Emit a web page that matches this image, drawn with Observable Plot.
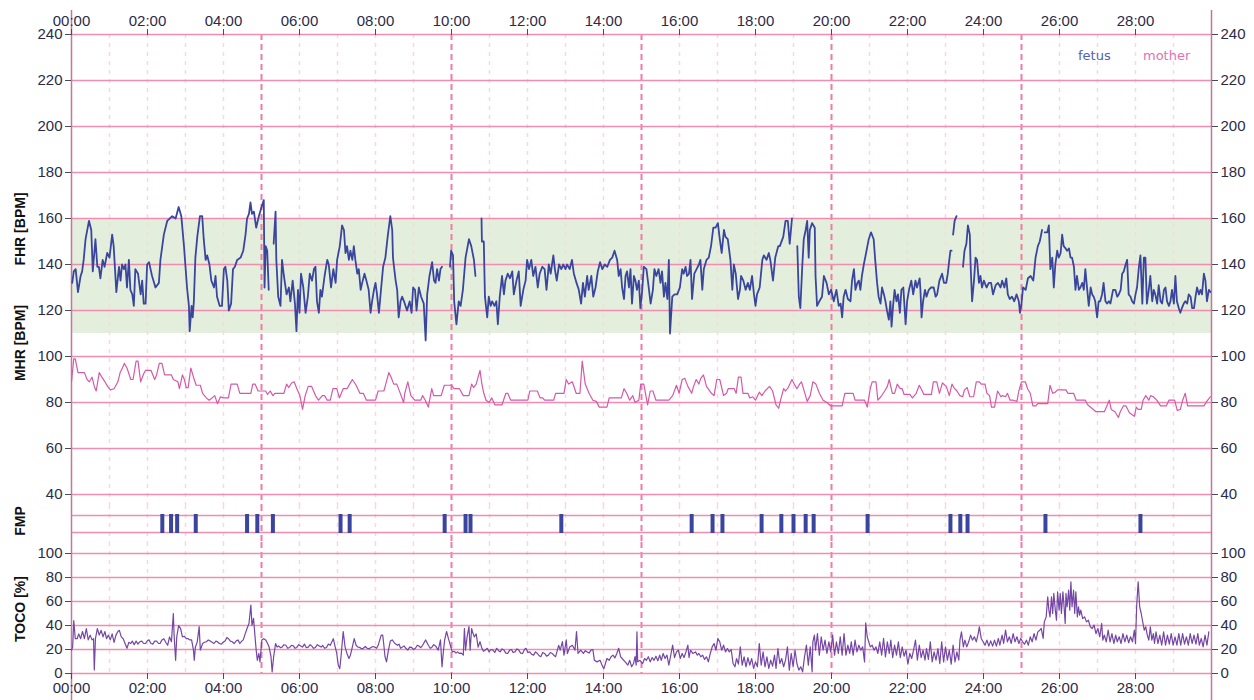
<!DOCTYPE html>
<html><head><meta charset="utf-8">
<script src="https://cdn.jsdelivr.net/npm/d3@7"></script>
<script src="https://cdn.jsdelivr.net/npm/@observablehq/plot@0.6"></script>
<style>
body{margin:0;background:#fff;}
#chart{position:relative;width:1254px;height:700px;font-family:"Liberation Sans",Arial,sans-serif;}
#chart svg{display:block;}
.ylab{position:absolute;left:20px;font-weight:bold;font-size:14px;color:#111;white-space:nowrap;transform:translate(-50%,-50%) rotate(-90deg);}
.leg{position:absolute;font-family:"DejaVu Sans",sans-serif;font-size:13px;line-height:16px;}
</style></head>
<body><div id="chart"></div>
<script>
// ---- DATA (time in minutes) ----
const xTicks = [0,2,4,6,8,10,12,14,16,18,20,22,24,26,28];
const minorMinutes = [1,2,3,4,6,7,8,9,11,12,13,14,16,17,18,19,21,22,23,24,26,27,28,29];
const majorMinutes = [5,10,15,20,25];
const bpmTicks = [40,60,80,100,120,140,160,180,200,220,240];
const tocoTicks = [0,20,40,60,80,100];
const fhrNormal = [110,160];

const fhr = [[0.02,132],[0.06,137],[0.11,138],[0.17,128],[0.24,135],[0.28,137],[0.32,142],[0.37,151],[0.46,159],[0.52,155],[0.56,137],[0.63,151],[0.68,139],[0.72,139],[0.76,134],[0.82,142],[0.87,139],[0.94,145],[1.00,143],[1.07,153],[1.11,148],[1.18,128],[1.25,139],[1.29,133],[1.33,140],[1.38,138],[1.42,140],[1.46,130],[1.51,142],[1.55,129],[1.60,127],[1.64,122],[1.68,138],[1.75,136],[1.82,127],[1.86,133],[1.90,123],[1.95,123],[1.99,140],[2.04,141],[2.08,138],[2.12,135],[2.21,130],[2.30,132],[2.34,142],[2.43,153],[2.52,159],[2.65,161],[2.74,160],[2.82,165],[2.89,161],[2.96,148],[3.00,139],[3.04,130],[3.09,122],[3.11,111],[3.16,122],[3.19,117],[3.22,124],[3.26,143],[3.31,152],[3.38,161],[3.44,161],[3.48,151],[3.53,142],[3.57,144],[3.63,140],[3.68,133],[3.75,130],[3.79,135],[3.83,126],[3.90,122],[3.96,122],[4.01,138],[4.05,139],[4.10,133],[4.14,120],[4.20,123],[4.25,138],[4.30,139],[4.36,142],[4.45,143],[4.52,146],[4.58,153],[4.62,160],[4.67,162],[4.71,167],[4.75,162],[4.80,163],[4.86,156],[4.93,161],[5.02,166],[5.06,168],[5.08,130],[5.11,148],[5.15,146],[5.19,129],[5.25,NaN],[5.32,149],[5.37,163],[5.39,142],[5.44,126],[5.50,122],[5.54,142],[5.59,135],[5.66,127],[5.72,130],[5.76,124],[5.82,133],[5.88,123],[5.92,111],[5.96,129],[6.00,119],[6.04,136],[6.10,130],[6.16,119],[6.22,126],[6.27,136],[6.33,133],[6.38,138],[6.42,139],[6.46,124],[6.51,119],[6.55,129],[6.59,126],[6.66,135],[6.73,142],[6.77,140],[6.83,130],[6.89,138],[6.95,132],[6.99,142],[7.06,148],[7.12,157],[7.17,155],[7.21,145],[7.25,148],[7.30,142],[7.34,146],[7.39,142],[7.43,148],[7.47,142],[7.52,136],[7.56,138],[7.61,129],[7.65,132],[7.71,136],[7.76,133],[7.82,129],[7.87,119],[7.91,124],[7.96,129],[8.00,132],[8.04,127],[8.09,119],[8.15,130],[8.20,139],[8.26,143],[8.32,152],[8.39,161],[8.44,155],[8.46,143],[8.48,140],[8.53,133],[8.57,129],[8.61,117],[8.66,124],[8.70,126],[8.75,124],[8.83,120],[8.90,124],[8.95,119],[8.99,130],[9.04,129],[9.08,120],[9.14,130],[9.20,126],[9.27,123],[9.32,107],[9.36,127],[9.42,135],[9.49,141],[9.54,133],[9.58,132],[9.62,138],[9.67,133],[9.71,138],[9.75,139],[9.85,NaN],[9.96,139],[9.99,146],[10.04,144],[10.07,124],[10.13,114],[10.19,124],[10.24,122],[10.30,129],[10.37,143],[10.46,151],[10.52,148],[10.59,142],[10.63,135],[10.70,NaN],[10.79,160],[10.80,150],[10.85,150],[10.88,126],[10.94,117],[10.98,126],[11.03,122],[11.07,124],[11.13,122],[11.18,124],[11.22,114],[11.27,126],[11.33,135],[11.38,127],[11.42,133],[11.48,136],[11.54,134],[11.60,137],[11.64,127],[11.71,133],[11.77,137],[11.82,122],[11.89,129],[11.95,133],[11.99,142],[12.04,138],[12.10,142],[12.15,135],[12.21,139],[12.27,130],[12.32,136],[12.39,139],[12.45,138],[12.50,129],[12.56,140],[12.61,136],[12.68,144],[12.72,138],[12.77,133],[12.83,140],[12.89,138],[12.94,140],[13.00,138],[13.04,140],[13.11,138],[13.17,142],[13.22,136],[13.29,132],[13.35,129],[13.41,123],[13.46,132],[13.51,126],[13.57,135],[13.61,129],[13.68,135],[13.73,126],[13.79,130],[13.85,137],[13.91,141],[13.97,138],[14.03,140],[14.10,139],[14.17,142],[14.23,143],[14.29,146],[14.36,142],[14.40,135],[14.45,138],[14.49,130],[14.54,125],[14.58,135],[14.62,137],[14.67,130],[14.71,138],[14.75,123],[14.80,135],[14.84,133],[14.88,129],[14.93,133],[14.97,121],[15.02,129],[15.06,139],[15.13,138],[15.19,130],[15.24,123],[15.30,129],[15.34,138],[15.39,135],[15.45,138],[15.50,132],[15.54,137],[15.59,126],[15.63,132],[15.68,125],[15.72,142],[15.75,110],[15.81,126],[15.87,127],[15.94,127],[16.01,130],[16.07,138],[16.11,136],[16.16,139],[16.20,135],[16.25,136],[16.29,142],[16.33,125],[16.39,136],[16.45,138],[16.51,140],[16.55,142],[16.60,129],[16.64,138],[16.71,142],[16.77,143],[16.83,148],[16.89,156],[16.95,156],[17.01,158],[17.06,151],[17.11,145],[17.17,155],[17.21,152],[17.27,151],[17.34,142],[17.39,129],[17.43,140],[17.48,136],[17.54,125],[17.59,129],[17.62,135],[17.68,133],[17.74,129],[17.80,132],[17.85,129],[17.91,135],[17.96,127],[18.00,122],[18.04,127],[18.11,130],[18.18,142],[18.22,144],[18.29,142],[18.35,145],[18.39,142],[18.46,133],[18.52,143],[18.60,148],[18.64,148],[18.73,152],[18.79,159],[18.85,159],[18.90,149],[18.96,160],[19.03,NaN],[19.10,148],[19.14,126],[19.18,121],[19.23,139],[19.27,151],[19.32,155],[19.36,159],[19.40,143],[19.43,155],[19.49,158],[19.56,156],[19.58,135],[19.62,122],[19.68,124],[19.75,126],[19.80,135],[19.87,132],[19.93,127],[19.99,129],[20.06,124],[20.13,129],[20.19,122],[20.24,123],[20.28,117],[20.32,126],[20.37,129],[20.43,125],[20.50,124],[20.54,133],[20.59,138],[20.63,129],[20.68,132],[20.72,133],[20.76,129],[20.80,135],[20.85,140],[20.91,145],[20.98,151],[21.04,154],[21.11,151],[21.15,142],[21.20,132],[21.24,126],[21.29,123],[21.33,130],[21.38,127],[21.42,124],[21.46,120],[21.51,116],[21.55,124],[21.58,113],[21.62,122],[21.66,129],[21.71,124],[21.75,127],[21.80,119],[21.84,129],[21.89,130],[21.95,114],[21.99,124],[22.04,129],[22.10,133],[22.15,127],[22.21,133],[22.25,130],[22.32,134],[22.34,129],[22.37,117],[22.41,124],[22.46,129],[22.50,126],[22.56,129],[22.62,130],[22.69,130],[22.74,126],[22.78,127],[22.84,133],[22.91,136],[22.96,132],[23.02,132],[23.06,136],[23.10,142],[23.13,146],[23.16,146],[23.18,NaN],[23.20,153],[23.24,159],[23.29,161],[23.38,NaN],[23.46,139],[23.50,146],[23.55,149],[23.59,157],[23.64,153],[23.66,140],[23.70,124],[23.75,133],[23.79,143],[23.83,142],[23.88,132],[23.92,135],[23.96,130],[24.01,133],[24.08,130],[24.14,132],[24.20,132],[24.25,127],[24.32,131],[24.38,132],[24.45,130],[24.49,133],[24.55,130],[24.60,134],[24.64,127],[24.69,125],[24.75,126],[24.81,124],[24.87,127],[24.93,124],[24.96,119],[25.00,123],[25.04,130],[25.11,129],[25.17,134],[25.24,135],[25.31,133],[25.37,143],[25.43,148],[25.48,150],[25.54,155],[25.57,NaN],[25.61,154],[25.68,154],[25.72,157],[25.76,138],[25.81,143],[25.85,130],[25.89,140],[25.94,146],[25.98,143],[26.03,145],[26.07,153],[26.11,148],[26.16,147],[26.20,146],[26.25,147],[26.29,143],[26.33,143],[26.38,139],[26.42,129],[26.46,135],[26.51,129],[26.55,130],[26.60,132],[26.64,129],[26.68,138],[26.73,129],[26.77,122],[26.82,130],[26.86,127],[26.90,126],[26.94,124],[26.99,117],[27.03,124],[27.07,124],[27.12,127],[27.16,132],[27.21,124],[27.25,123],[27.30,124],[27.34,123],[27.41,129],[27.47,129],[27.52,126],[27.56,127],[27.61,129],[27.65,136],[27.69,137],[27.74,140],[27.78,142],[27.82,127],[27.87,126],[27.91,124],[27.96,123],[28.00,127],[28.04,130],[28.09,139],[28.13,144],[28.18,123],[28.22,143],[28.26,143],[28.30,123],[28.35,129],[28.39,135],[28.44,124],[28.48,129],[28.52,127],[28.57,123],[28.61,131],[28.66,124],[28.70,123],[28.75,129],[28.79,130],[28.83,124],[28.88,122],[28.92,124],[28.96,129],[29.01,123],[29.05,135],[29.09,124],[29.14,121],[29.18,119],[29.22,121],[29.27,123],[29.31,124],[29.36,123],[29.40,127],[29.45,126],[29.49,121],[29.54,121],[29.58,126],[29.62,130],[29.67,127],[29.71,129],[29.75,127],[29.80,136],[29.84,133],[29.88,124],[29.93,129],[29.97,128]];

const mhr = [[0.00,89],[0.06,99],[0.10,99],[0.17,93],[0.34,93],[0.41,90],[0.47,89],[0.54,91],[0.60,87],[0.65,85],[0.73,93],[0.80,91],[0.88,89],[0.95,87],[1.02,85.5],[1.12,86],[1.22,89],[1.28,93],[1.34,95],[1.39,97],[1.46,95],[1.56,90],[1.62,90],[1.70,98],[1.75,98],[1.82,89],[1.90,92.5],[1.95,94],[2.09,94],[2.19,90],[2.24,92],[2.31,97],[2.38,97],[2.45,92],[2.63,92],[2.68,90],[2.80,89],[2.84,86],[2.92,92],[2.97,90],[3.02,86.5],[3.07,86.5],[3.14,95],[3.21,91],[3.28,87.5],[3.39,87.5],[3.45,84],[3.55,82],[3.62,81],[3.70,82],[3.77,83],[3.84,79.5],[3.92,82.5],[3.99,82],[4.13,82],[4.20,88],[4.36,88],[4.43,84],[4.72,84],[4.77,88],[4.83,88],[4.91,85],[5.11,85],[5.16,83.5],[5.23,85],[5.30,83],[5.35,84],[5.59,84],[5.66,88],[5.72,86.5],[5.79,88.5],[5.86,89],[5.93,86],[6.01,83],[6.08,77],[6.15,83],[6.23,87],[6.32,87],[6.42,83],[6.50,81],[6.60,83],[6.66,83],[6.73,81],[6.81,81],[6.88,86],[6.98,86],[7.05,82],[7.15,86],[7.25,86],[7.32,88],[7.39,90],[7.49,87.5],[7.59,84],[7.68,84],[7.76,81],[8.00,81],[8.07,85],[8.22,85],[8.27,88],[8.35,93],[8.41,91],[8.48,88],[8.56,88],[8.64,84.5],[8.74,80],[8.77,84],[8.85,89],[8.93,83],[9.03,81],[9.19,81],[9.24,83],[9.31,81],[9.39,78],[9.48,86],[9.53,83],[9.73,83],[9.81,87.5],[10.00,87.5],[10.07,86],[10.21,86],[10.31,83],[10.46,83],[10.53,88],[10.58,86.5],[10.65,88],[10.70,91],[10.75,94],[10.80,88],[10.85,84],[10.91,81],[10.99,80],[11.06,82],[11.14,79],[11.33,79],[11.43,84],[11.48,84],[11.56,81],[12.01,81],[12.06,85],[12.26,85],[12.33,82],[12.40,82],[12.45,81],[12.69,81],[12.74,84],[12.96,84],[13.02,90],[13.08,88],[13.18,89],[13.28,84],[13.38,84],[13.44,98],[13.52,88],[13.62,84],[13.72,81],[13.81,80.5],[13.89,78],[14.09,78],[14.15,82],[14.47,82],[14.54,86],[14.61,84],[14.69,81],[14.77,83],[14.83,80],[14.93,81],[14.98,88],[15.06,88],[15.16,79],[15.23,85],[15.30,85],[15.38,81],[15.72,81],[15.82,83],[15.92,87.5],[15.99,84],[16.07,90],[16.14,90.5],[16.22,87],[16.32,84],[16.37,87],[16.44,90],[16.51,88],[16.56,90.5],[16.63,92],[16.71,87],[16.84,84],[16.91,83],[16.98,90],[17.06,90],[17.16,83],[17.24,84],[17.28,86],[17.44,86],[17.49,84],[17.55,91],[17.62,91],[17.67,84],[17.80,84],[17.85,82],[17.93,82.5],[18.00,81],[18.10,84.5],[18.17,83],[18.25,85],[18.37,87],[18.45,85],[18.54,79],[18.61,77.5],[18.66,81],[18.74,86],[18.79,85],[18.86,86.5],[18.96,90],[19.02,88],[19.09,86],[19.16,88],[19.21,89],[19.29,84.5],[19.36,80.5],[19.44,83],[19.51,89],[19.59,88],[19.68,84],[19.78,81],[19.88,80],[19.98,78.5],[20.28,78.5],[20.35,84],[20.57,84],[20.62,81],[20.87,81],[20.94,78],[21.02,86],[21.07,89],[21.17,89],[21.22,81],[21.30,82.5],[21.40,85],[21.47,87],[21.52,90],[21.60,84],[21.66,84],[21.73,88],[21.81,86],[21.86,86],[21.91,83.5],[22.06,83.5],[22.13,82],[22.23,84],[22.31,87.5],[22.36,86],[22.43,83.5],[22.63,83.5],[22.68,89],[22.77,89],[22.84,84],[22.92,88.5],[23.02,87],[23.10,83],[23.17,88],[23.22,86.5],[23.30,85],[23.38,83],[23.45,82.5],[23.50,85.5],[23.57,86.5],[23.64,82.5],[23.74,82.5],[23.81,89],[23.89,89],[23.94,88],[24.04,88],[24.09,84],[24.16,83],[24.21,78],[24.29,78],[24.37,85],[24.46,82.5],[24.50,83],[24.58,82.5],[24.63,84],[24.70,81],[24.78,81],[24.88,80.5],[24.93,85],[25.00,89],[25.10,89],[25.16,86],[25.23,84],[25.30,78.5],[25.38,78.5],[25.43,79.5],[25.69,79.5],[25.75,87.5],[25.82,84],[25.89,84.5],[25.95,85.5],[26.17,85.5],[26.22,84],[26.37,84],[26.44,81],[26.68,81],[26.74,79],[26.96,76],[27.18,76],[27.26,79],[27.31,81],[27.36,77],[27.46,76],[27.55,73.5],[27.60,76],[27.68,78.5],[27.75,78.5],[27.84,75.5],[27.97,74],[28.02,78],[28.07,77],[28.15,77],[28.20,81],[28.27,83],[28.35,81],[28.40,83],[28.47,82.5],[28.56,81],[28.66,78.5],[28.81,78.5],[28.88,81],[29.03,81],[29.10,76.5],[29.18,77],[29.24,81],[29.31,84],[29.37,78.5],[29.80,78.5],[29.90,81],[29.97,82.5]];

const fmpTimes = [2.39,2.62,2.78,3.27,4.62,4.89,5.30,7.08,7.32,9.82,10.37,10.50,12.89,16.32,16.87,17.13,18.16,18.68,19.00,19.32,19.53,20.95,23.13,23.39,23.58,25.63,28.13];

const toco = [[0.00,19.4],[0.03,22],[0.06,44],[0.10,29],[0.15,29],[0.19,33],[0.24,29],[0.29,35],[0.34,29],[0.39,37.5],[0.44,28],[0.49,32],[0.54,28],[0.58,29],[0.60,3],[0.63,29],[0.68,37.5],[0.73,32],[0.78,36],[0.83,30.5],[0.88,35],[0.92,29],[0.97,32],[1.02,28],[1.07,33],[1.12,26],[1.17,32],[1.22,35],[1.26,36],[1.31,30.5],[1.36,29],[1.41,25],[1.46,21],[1.51,26],[1.56,25],[1.60,27],[1.65,24],[1.70,27],[1.75,24.5],[1.80,26.5],[1.85,27],[1.90,25],[1.95,25],[2.00,27.5],[2.04,28],[2.09,25],[2.14,24.5],[2.19,27],[2.24,27],[2.29,25],[2.33,25],[2.38,28],[2.43,29],[2.48,26],[2.53,23.5],[2.58,30.5],[2.63,26.5],[2.68,50],[2.70,32],[2.74,11],[2.77,30.5],[2.82,40],[2.87,37.5],[2.92,30.5],[2.97,31],[3.02,29],[3.07,29],[3.11,28],[3.16,28],[3.21,19.5],[3.23,11],[3.26,22],[3.31,26.5],[3.36,39],[3.39,19.5],[3.45,25],[3.50,26],[3.55,26.5],[3.60,28],[3.65,27],[3.70,26],[3.75,25],[3.80,27],[3.84,26.5],[3.89,25],[3.94,24.5],[3.99,26],[4.04,27],[4.09,30],[4.13,29],[4.18,27],[4.23,26.5],[4.28,25],[4.33,27],[4.38,28],[4.43,25],[4.48,27],[4.52,28],[4.57,33],[4.62,37.5],[4.67,41.7],[4.72,57],[4.75,40],[4.79,46],[4.83,30.5],[4.86,19.5],[4.89,11],[4.93,16.7],[4.96,9.7],[5.01,28],[5.06,29],[5.11,28],[5.16,25],[5.20,22],[5.25,14],[5.28,1.4],[5.32,14],[5.37,25],[5.41,22],[5.45,23],[5.50,21.5],[5.54,22],[5.59,24],[5.64,23.5],[5.69,21],[5.74,21.7],[5.79,23.5],[5.84,23],[5.88,21],[5.93,21.7],[5.98,24],[6.03,23],[6.08,22],[6.13,24.5],[6.18,21.5],[6.23,22],[6.28,24],[6.32,23],[6.37,21],[6.42,21.7],[6.47,24],[6.52,23],[6.57,22],[6.61,23.5],[6.66,21],[6.71,21.7],[6.76,24.5],[6.81,23.5],[6.89,29],[6.93,23.5],[6.98,16.7],[7.02,7],[7.06,4],[7.10,16.7],[7.15,35],[7.20,22],[7.25,16.7],[7.30,12.5],[7.34,15.3],[7.39,22],[7.44,29],[7.49,23.5],[7.54,22],[7.59,21.7],[7.64,20.5],[7.68,21],[7.73,22.5],[7.78,21],[7.83,20.5],[7.88,21.7],[7.93,22.5],[7.98,22],[8.03,21],[8.07,23.5],[8.15,32],[8.19,32],[8.22,23.5],[8.25,14],[8.29,9.7],[8.34,19.5],[8.39,27],[8.44,28],[8.51,25],[8.58,23.5],[8.62,24.5],[8.66,21],[8.71,22],[8.75,23],[8.80,21],[8.85,19.5],[8.90,22],[8.95,21.7],[9.00,20],[9.05,21],[9.10,23.5],[9.14,23],[9.19,21.5],[9.24,23.5],[9.32,28],[9.39,23.5],[9.44,21],[9.48,21.7],[9.53,24],[9.58,23],[9.65,19.5],[9.71,28],[9.75,5.6],[9.79,19.5],[9.82,28],[9.87,35],[9.92,29],[9.97,23.5],[10.02,18],[10.07,18.5],[10.12,17],[10.16,18],[10.21,16.7],[10.26,17],[10.31,15.3],[10.34,37.5],[10.37,19.5],[10.41,30.5],[10.46,39],[10.49,19.5],[10.53,37.5],[10.55,35],[10.60,30.5],[10.65,33],[10.70,22],[10.75,26.5],[10.80,21],[10.84,18.5],[10.89,19.5],[10.94,21],[10.99,18],[11.04,20],[11.09,19.5],[11.14,17.5],[11.19,21],[11.24,19],[11.28,18],[11.33,20.5],[11.38,19.5],[11.43,17],[11.48,16.7],[11.53,19.5],[11.58,20],[11.62,17.5],[11.67,18],[11.72,20.5],[11.77,19.5],[11.82,17],[11.87,16.7],[11.92,20],[11.96,21],[12.01,17.5],[12.06,18],[12.11,16],[12.16,15.3],[12.21,18],[12.26,16.7],[12.30,15],[12.35,14],[12.40,17.5],[12.45,16.7],[12.50,14.5],[12.55,15.3],[12.60,17.5],[12.65,16.7],[12.70,15],[12.74,14],[12.82,23.5],[12.86,19.5],[12.92,26.5],[12.96,15.3],[13.02,28],[13.05,16.7],[13.11,22],[13.18,23.5],[13.25,19.5],[13.29,35],[13.33,16.7],[13.40,19.5],[13.47,16.7],[13.52,19],[13.57,18],[13.62,17],[13.67,19.5],[13.72,20],[13.76,11],[13.83,9.7],[13.91,11],[13.96,7],[14.01,4],[14.09,12.5],[14.15,11],[14.20,14],[14.25,15.3],[14.30,13],[14.35,16.7],[14.40,21],[14.45,14],[14.49,12.5],[14.57,9.7],[14.64,7],[14.69,11],[14.74,5.6],[14.79,8.3],[14.83,14],[14.86,7],[14.88,34.7],[14.90,9.7],[14.96,11],[15.03,8.3],[15.08,12.5],[15.13,11],[15.18,14],[15.23,9.7],[15.28,13.3],[15.33,11],[15.38,14.4],[15.43,10.6],[15.48,15.3],[15.52,11],[15.57,16.7],[15.62,12.5],[15.67,15.3],[15.72,7],[15.77,15.3],[15.82,23.6],[15.87,13.3],[15.92,18],[15.97,19.4],[16.02,12.5],[16.07,16.7],[16.12,13.3],[16.17,18],[16.22,23.6],[16.25,13.3],[16.29,19.4],[16.35,16.7],[16.42,18],[16.47,15.3],[16.51,16.7],[16.56,13.9],[16.61,15.3],[16.66,11.7],[16.71,13.9],[16.76,9.7],[16.81,16.7],[16.86,22.2],[16.91,25],[16.96,19.4],[17.01,29.2],[17.06,26.4],[17.11,19.4],[17.16,23.6],[17.21,18],[17.26,20.8],[17.31,18],[17.36,20],[17.41,8.3],[17.46,5.6],[17.50,12.5],[17.55,7.8],[17.60,22.2],[17.65,7],[17.70,13.9],[17.75,5.6],[17.80,13.3],[17.85,7],[17.90,12.5],[17.95,4.2],[18.00,9.7],[18.05,5.6],[18.10,25],[18.15,7],[18.20,18],[18.25,5.6],[18.30,13.9],[18.35,4.2],[18.40,11.1],[18.45,6.1],[18.50,15.3],[18.54,4.2],[18.59,20.8],[18.64,8.3],[18.69,12.5],[18.74,5.6],[18.79,11.1],[18.84,22.2],[18.89,2.8],[18.94,16.7],[18.99,5.6],[19.04,19.4],[19.09,8.3],[19.14,2.8],[19.19,5.6],[19.24,1.4],[19.29,13.9],[19.34,23.6],[19.39,7],[19.44,22.2],[19.49,1.4],[19.51,26.4],[19.55,32],[19.58,19.4],[19.63,33.3],[19.68,15.3],[19.73,30.6],[19.78,19.4],[19.83,27.8],[19.88,16.7],[19.93,26.4],[19.98,18],[20.03,32],[20.08,15.3],[20.13,26.4],[20.18,16.7],[20.23,30.6],[20.28,15.3],[20.33,33.3],[20.38,15.3],[20.43,23.6],[20.48,16.7],[20.52,26.4],[20.57,15.3],[20.62,27.8],[20.67,18],[20.72,23.6],[20.77,19.4],[20.82,22.2],[20.87,9.7],[20.90,42.2],[20.94,30.6],[20.98,26.4],[21.02,22.2],[21.07,23.6],[21.12,19.4],[21.17,22.2],[21.22,16.7],[21.27,26.4],[21.32,15.3],[21.37,29.2],[21.42,13.9],[21.47,26.4],[21.52,16.7],[21.56,27.8],[21.61,13.3],[21.66,23.6],[21.71,15.3],[21.76,26.4],[21.81,13.3],[21.86,22.2],[21.91,14.4],[21.96,19.4],[22.01,7.8],[22.06,16.7],[22.11,12.5],[22.16,19.4],[22.21,27.8],[22.26,11.1],[22.31,23.6],[22.36,13.3],[22.41,19.4],[22.46,11.1],[22.50,20.8],[22.55,11.7],[22.60,26.4],[22.65,9.7],[22.70,18],[22.75,11.1],[22.80,20.8],[22.85,8.3],[22.90,26.4],[22.95,9.7],[23.00,22.2],[23.05,11.1],[23.10,19.4],[23.15,7.8],[23.20,23.6],[23.25,9.7],[23.30,18],[23.35,11.1],[23.38,27.8],[23.42,34.7],[23.47,22.2],[23.51,27.8],[23.56,22.2],[23.61,26.4],[23.66,32],[23.71,27.8],[23.76,30.6],[23.81,26.4],[23.86,33.3],[23.89,38.9],[23.94,29.2],[23.99,26.4],[24.04,23.6],[24.09,27.8],[24.14,22.8],[24.19,27.2],[24.24,22.8],[24.29,27.8],[24.34,22.8],[24.39,29.2],[24.43,23.6],[24.49,32],[24.53,25],[24.58,36.1],[24.63,26.4],[24.68,30.6],[24.73,25],[24.78,33.3],[24.83,26.4],[24.88,30.6],[24.93,25],[24.98,29.2],[25.03,26.4],[25.08,24.4],[25.13,27.8],[25.18,23.6],[25.23,30.6],[25.28,26.4],[25.33,33.3],[25.38,27.8],[25.43,34.7],[25.48,36.1],[25.52,37.5],[25.57,29.2],[25.60,43],[25.65,47.2],[25.69,63.9],[25.72,52.8],[25.75,47.2],[25.79,63.9],[25.82,50],[25.85,66.7],[25.89,52.8],[25.92,44.4],[25.95,68],[25.99,52.8],[26.02,66.7],[26.05,50],[26.09,68],[26.12,55.6],[26.15,41.7],[26.17,66.7],[26.20,55.6],[26.24,69.4],[26.27,52.8],[26.30,76.4],[26.33,55.6],[26.37,69.4],[26.40,50],[26.43,68],[26.47,47.2],[26.50,55.6],[26.53,48.6],[26.56,52.8],[26.61,45.8],[26.66,47.2],[26.71,43],[26.76,44.4],[26.81,38.9],[26.86,37.5],[26.91,40.3],[26.96,33.3],[27.01,37.5],[27.06,30.6],[27.11,41.7],[27.14,27.8],[27.18,32],[27.23,26.4],[27.28,36.1],[27.33,26.4],[27.38,33.3],[27.43,25],[27.48,32],[27.52,26.4],[27.57,30.6],[27.62,25],[27.67,33.3],[27.72,26.4],[27.77,32],[27.82,25.6],[27.87,30.6],[27.92,26.4],[27.97,36.1],[28.00,25],[28.03,55.6],[28.07,76.4],[28.11,55.6],[28.15,50],[28.19,43],[28.23,36.1],[28.27,38.9],[28.31,32],[28.35,27.8],[28.39,38.9],[28.43,27.8],[28.47,33.3],[28.50,25],[28.54,34.7],[28.59,25],[28.64,32],[28.69,23.6],[28.74,34.7],[28.79,23.6],[28.84,32],[28.89,24.4],[28.94,33.3],[28.99,23.6],[29.04,30.6],[29.09,23.6],[29.14,33.3],[29.19,23.6],[29.24,33.3],[29.29,24.4],[29.34,30.6],[29.39,23.6],[29.44,33.3],[29.49,25],[29.54,32],[29.59,24.4],[29.64,33.3],[29.68,23.6],[29.73,29.2],[29.78,22.2],[29.83,32],[29.88,23.6],[29.93,34.7]];

// ---- STYLE ----
const C = {
  grid: "#f28cb1", minor: "#f9d6e2", major: "#f27aa5", frame: "#c7749c",
  band: "#e3efdc", fhr: "#3a469e", mhr: "#d45aa8", toco: "#7446a6",
  text: "#2b2b48", tick: "#4a4a5a"
};
const W = 1254, ML = 71, MR = 43;
const fmtX = d => String(d).padStart(2, "0") + ":00";
const common = {
  width: W, marginLeft: ML, marginRight: MR,
  style: {fontFamily: '"Liberation Sans", Arial, sans-serif', fontSize: "15px", background: "transparent", overflow: "visible"}
};
const vGrid = () => [
  Plot.ruleX(minorMinutes, {stroke: C.minor, strokeWidth: 1.5, strokeDasharray: "4,5"}),
  Plot.ruleX(majorMinutes, {stroke: C.major, strokeWidth: 2, strokeDasharray: "6,4"})
];
const yAxes = ticks => [
  Plot.axisY(ticks, {anchor: "left", tickSize: 6, tickPadding: 3, fill: C.text, stroke: C.tick, label: null}),
  Plot.axisY(ticks, {anchor: "right", tickSize: 6, tickPadding: 3, fill: C.text, stroke: C.tick, label: null})
];

// Panel A: FHR + MHR
const plotA = Plot.plot({
  ...common, height: 505, marginTop: 34, marginBottom: 0,
  x: {domain: [0, 30]},
  y: {domain: [40, 240], range: [494, 34]},
  marks: [
    Plot.rect([fhrNormal], {x1: 0, x2: 30, y1: d => d[0], y2: d => d[1], fill: C.band}),
    ...vGrid(),
    Plot.ruleY(bpmTicks, {stroke: C.grid, strokeWidth: 1.5}),
    Plot.ruleX([0, 30], {stroke: C.frame, strokeWidth: 1.5, insetTop: -24}),
    Plot.line(mhr, {x: d => d[0], y: d => d[1], stroke: C.mhr, strokeWidth: 1.2}),
    Plot.line(fhr, {x: d => d[0], y: d => d[1], stroke: C.fhr, strokeWidth: 1.8}),
    Plot.axisX(xTicks, {anchor: "top", tickSize: 6, tickPadding: 3, tickFormat: fmtX, fill: C.text, stroke: C.tick, label: null}),
    ...yAxes(bpmTicks)
  ]
});

// Panel B: FMP
const plotB = Plot.plot({
  ...common, height: 37, marginTop: 0, marginBottom: 0,
  x: {domain: [0, 30], axis: null},
  y: {domain: [0, 1], range: [27, 10], axis: null},
  marks: [
    ...vGrid(),
    Plot.ruleY([0, 1], {stroke: C.grid, strokeWidth: 1.5}),
    Plot.ruleX([0, 30], {stroke: C.frame, strokeWidth: 1.5}),
    Plot.ruleX(fmpTimes, {x: d => d, y1: 0, y2: 1, stroke: C.fhr, strokeWidth: 4, insetTop: 1, insetBottom: 1})
  ]
});

// Panel C: TOCO
const plotC = Plot.plot({
  ...common, height: 158, marginTop: 0, marginBottom: 27,
  x: {domain: [0, 30]},
  y: {domain: [0, 100], range: [131, 11]},
  marks: [
    ...vGrid(),
    Plot.ruleY(tocoTicks, {stroke: C.grid, strokeWidth: 1.5}),
    Plot.ruleX([0, 30], {stroke: C.frame, strokeWidth: 1.5, insetBottom: -27}),
    Plot.line(toco, {x: d => d[0], y: d => d[1], stroke: C.toco, strokeWidth: 1.2}),
    Plot.axisX(xTicks, {anchor: "bottom", tickSize: 6, tickPadding: 3, tickFormat: fmtX, fill: C.text, stroke: C.tick, label: null}),
    ...yAxes(tocoTicks)
  ]
});

const chart = document.getElementById("chart");
chart.append(plotA, plotB, plotC);

const labels = [["FHR [BPM]", 229], ["MHR [BPM]", 343], ["FMP", 521], ["TOCO [%]", 609]];
for (const [t, y] of labels) {
  const d = document.createElement("div");
  d.className = "ylab"; d.textContent = t; d.style.top = y + "px";
  chart.append(d);
}
const legend = [["fetus", "#5561b3", 1078], ["mother", "#e471b4", 1143]];
for (const [t, c, x] of legend) {
  const d = document.createElement("div");
  d.className = "leg"; d.textContent = t; d.style.color = c; d.style.left = x + "px"; d.style.top = "48px";
  chart.append(d);
}
</script></body></html>
